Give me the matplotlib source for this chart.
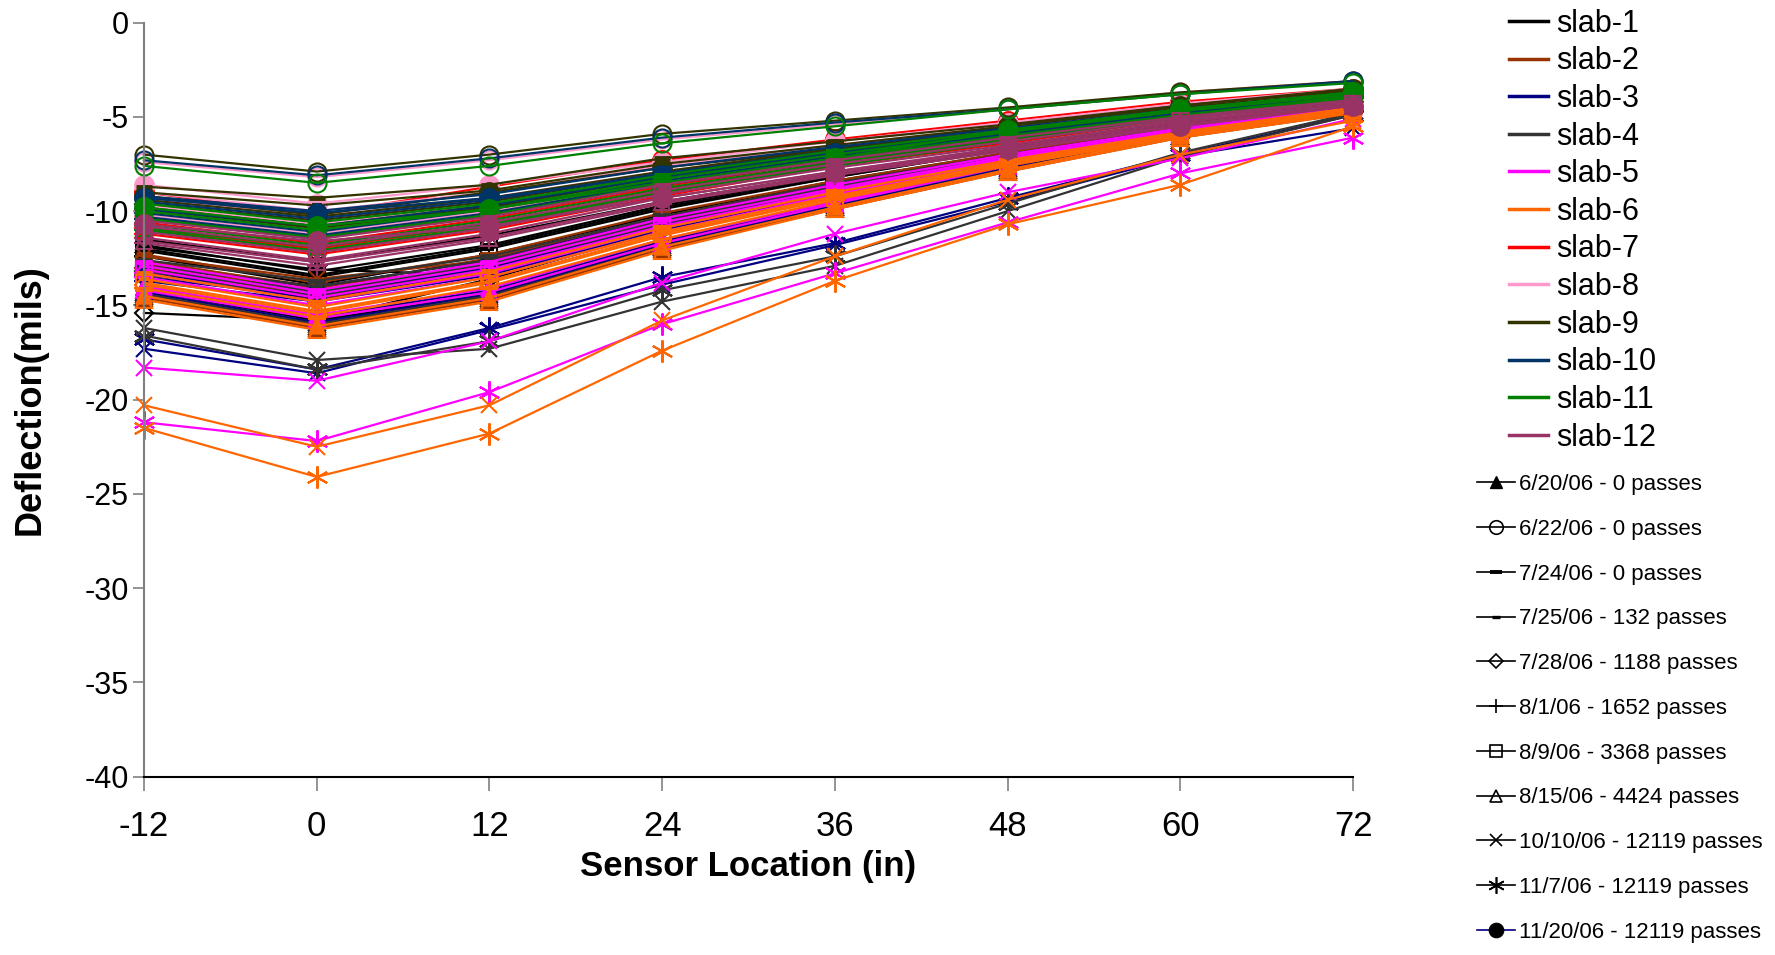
import matplotlib
matplotlib.use('Agg')
import matplotlib.pyplot as plt
from matplotlib.lines import Line2D
from matplotlib.font_manager import FontProperties

plt.rcParams['axes.unicode_minus'] = False

# sensor positions (in)
sensor_x = [-12, 0, 12, 24, 36, 48, 60, 72]

slab_names = ['slab-%d' % i for i in range(1, 13)]
slab_colors = ['#000000', '#993300', '#000080', '#333333', '#FF00FF', '#FF6600',
               '#FF0000', '#FF99CC', '#333300', '#003366', '#008000', '#993366']

date_labels = ['6/20/06 - 0 passes', '6/22/06 - 0 passes', '7/24/06 - 0 passes',
               '7/25/06 - 132 passes', '7/28/06 - 1188 passes', '8/1/06 - 1652 passes',
               '8/9/06 - 3368 passes', '8/15/06 - 4424 passes', '10/10/06 - 12119 passes',
               '11/7/06 - 12119 passes', '11/20/06 - 12119 passes']

# deflection (mils), one row per test date (None = not tested)
slab1 = [
    [-14.2, -15.8, -14.4, -11.7, -9.6, -7.6, -5.9, -4.6],
    None,
    [-11.8, -13.2, -11.8, -9.7, -8.1, -6.6, -5.3, -4.2],
    [-12.1, -13.5, -12.0, -9.9, -8.2, -6.7, -5.4, -4.3],
    [-15.4, -15.8, -13.6, -11.0, -9.1, -7.4, -5.8, -4.6],
    [-12.4, -13.9, -12.3, -10.2, -8.4, -6.9, -5.5, -4.3],
    [-12.0, -13.4, -11.9, -9.8, -8.2, -6.7, -5.4, -4.3],
    [-14.5, -16.1, -14.6, -11.9, -9.8, -7.8, -6.0, -4.7],
    [-11.5, -12.7, -11.3, -9.5, -8.0, -6.6, -5.3, -4.2],
    [-11.9, -13.1, -13.4, -10.8, -8.7, -7.0, -5.5, -4.4],
    None,
]
slab2 = [
    [-14.4, -16.0, -14.5, -11.9, -9.8, -7.8, -6.0, -4.7],
    None,
    [-12.3, -13.8, -12.3, -10.1, -8.4, -6.9, -5.5, -4.3],
    [-12.6, -14.1, -12.5, -10.3, -8.5, -7.0, -5.6, -4.4],
    [-13.0, -14.5, -12.9, -10.6, -8.8, -7.2, -5.7, -4.5],
    [-13.2, -14.7, -13.1, -10.8, -8.9, -7.3, -5.8, -4.5],
    [-12.8, -14.3, -12.7, -10.5, -8.7, -7.1, -5.7, -4.4],
    [-14.6, -16.2, -14.7, -12.0, -9.9, -7.9, -6.1, -4.8],
    [-12.4, -13.6, -12.6, -10.5, -8.8, -7.2, -5.7, -4.5],
    [-12.7, -14.0, -12.9, -10.8, -9.0, -7.3, -5.8, -4.5],
    None,
]
slab3 = [
    [-14.0, -15.6, -14.2, -11.6, -9.5, -7.6, -5.9, -4.6],
    None,
    [-12.9, -14.0, -12.6, -10.4, -8.6, -7.0, -5.6, -4.4],
    [-13.1, -14.3, -12.8, -10.6, -8.7, -7.1, -5.7, -4.5],
    [-13.5, -14.6, -13.2, -10.9, -9.0, -7.3, -5.8, -4.6],
    [-13.7, -14.8, -13.4, -11.0, -9.1, -7.4, -5.9, -4.6],
    [-13.3, -14.5, -13.0, -10.7, -8.9, -7.2, -5.8, -4.5],
    [-14.3, -15.9, -14.4, -11.8, -9.7, -7.7, -6.0, -4.7],
    [-17.3, -18.6, -16.3, -13.9, -11.8, -9.5, -7.1, -5.6],
    [-16.8, -18.4, -16.2, -13.5, -11.7, -9.3, -7.0, -4.9],
    None,
]
slab4 = [
    [-14.1, -15.7, -14.3, -11.7, -9.6, -7.6, -5.9, -4.6],
    None,
    [-12.6, -13.7, -12.4, -10.3, -8.5, -7.0, -5.6, -4.4],
    [-12.9, -14.0, -12.6, -10.5, -8.7, -7.1, -5.7, -4.5],
    [-13.2, -14.3, -12.9, -10.7, -8.8, -7.2, -5.7, -4.5],
    [-13.4, -14.5, -13.1, -10.9, -9.0, -7.3, -5.8, -4.6],
    [-13.1, -14.2, -12.8, -10.6, -8.8, -7.2, -5.7, -4.5],
    [-14.4, -16.0, -14.5, -11.9, -9.8, -7.8, -6.0, -4.7],
    [-16.2, -17.9, -17.3, -14.8, -12.9, -10.0, -7.1, -4.9],
    [-16.6, -18.4, -16.9, -14.2, -12.4, -9.6, -6.9, -4.8],
    None,
]
slab5 = [
    [-14.0, -15.5, -14.1, -11.5, -9.5, -7.5, -5.8, -4.5],
    None,
    [-12.7, -14.2, -12.7, -10.4, -8.6, -7.0, -5.6, -4.4],
    [-12.9, -14.4, -12.9, -10.6, -8.8, -7.1, -5.7, -4.5],
    [-13.3, -14.8, -13.3, -10.9, -9.0, -7.3, -5.8, -4.6],
    [-13.5, -15.0, -13.5, -11.1, -9.1, -7.4, -5.9, -4.6],
    [-13.1, -14.6, -13.1, -10.8, -8.9, -7.2, -5.8, -4.5],
    [-14.2, -15.7, -14.3, -11.7, -9.6, -7.6, -5.9, -4.6],
    [-18.3, -19.0, -16.9, -13.8, -11.2, -9.0, -7.2, -5.1],
    [-21.2, -22.2, -19.6, -16.0, -13.3, -10.6, -8.0, -6.1],
    None,
]
slab6 = [
    [-14.5, -16.1, -14.6, -11.9, -9.8, -7.8, -6.0, -4.7],
    None,
    [-13.3, -14.8, -13.2, -10.9, -9.0, -7.3, -5.8, -4.5],
    [-13.6, -15.1, -13.5, -11.1, -9.2, -7.4, -5.9, -4.6],
    [-13.9, -15.4, -13.8, -11.3, -9.3, -7.5, -5.9, -4.6],
    [-14.1, -15.6, -14.0, -11.5, -9.4, -7.6, -6.0, -4.7],
    [-13.8, -15.3, -13.7, -11.2, -9.3, -7.5, -5.9, -4.6],
    [-14.7, -16.3, -14.8, -12.1, -9.9, -7.9, -6.1, -4.8],
    [-20.3, -22.5, -20.3, -15.8, -12.4, -9.4, -7.0, -5.2],
    [-21.5, -24.1, -21.8, -17.4, -13.7, -10.7, -8.6, -5.5],
    None,
]
slab7 = [
    None,
    None,
    [-10.0, -11.0, -9.8, -8.2, -6.9, -5.8, -4.7, -3.8],
    [-10.4, -11.4, -10.2, -8.5, -7.1, -6.0, -4.9, -3.9],
    [-10.9, -12.0, -10.7, -8.9, -7.4, -6.2, -5.0, -4.0],
    [-11.2, -12.3, -11.0, -9.2, -7.6, -6.4, -5.1, -4.1],
    [-10.6, -11.7, -10.4, -8.7, -7.3, -6.1, -5.0, -4.0],
    [-11.0, -12.1, -10.9, -9.0, -7.5, -6.3, -5.1, -4.1],
    None,
    None,
    [-9.0, -10.2, -8.7, -7.3, -6.2, -5.2, -4.2, -3.5],
]
slab8 = [
    None,
    [-7.4, -8.2, -7.3, -6.2, -5.4, -4.6, -3.7, -3.1],
    [-9.0, -10.0, -9.0, -7.6, -6.5, -5.5, -4.5, -3.7],
    [-9.3, -10.3, -9.3, -7.9, -6.7, -5.6, -4.6, -3.7],
    [-10.0, -11.0, -9.9, -8.3, -7.0, -5.9, -4.8, -3.9],
    [-10.3, -11.3, -10.1, -8.5, -7.1, -6.0, -4.9, -3.9],
    [-9.7, -10.7, -9.6, -8.1, -6.8, -5.7, -4.7, -3.8],
    [-10.2, -11.2, -10.0, -8.4, -7.0, -5.9, -4.8, -3.9],
    None,
    None,
    [-8.6, -9.6, -8.6, -7.4, -6.3, -5.3, -4.3, -3.5],
]
slab9 = [
    None,
    [-7.0, -7.9, -7.0, -5.9, -5.2, -4.5, -3.7, -3.1],
    [-8.7, -9.3, -8.6, -7.2, -6.3, -5.4, -4.4, -3.6],
    [-9.0, -9.7, -8.9, -7.5, -6.5, -5.5, -4.5, -3.7],
    [-9.6, -10.5, -9.5, -8.0, -6.8, -5.8, -4.7, -3.8],
    [-9.9, -10.9, -9.8, -8.2, -7.0, -5.9, -4.8, -3.8],
    [-9.4, -10.3, -9.3, -7.9, -6.7, -5.7, -4.6, -3.7],
    [-9.8, -10.8, -9.7, -8.2, -6.9, -5.9, -4.8, -3.8],
    None,
    None,
    [-9.2, -10.2, -9.0, -7.7, -6.7, -5.5, -4.4, -3.5],
]
slab10 = [
    None,
    [-7.3, -8.1, -7.2, -6.1, -5.3, -4.6, -3.8, -3.1],
    [-9.2, -10.0, -9.1, -7.7, -6.6, -5.6, -4.6, -3.7],
    [-9.5, -10.4, -9.4, -8.0, -6.8, -5.8, -4.7, -3.8],
    [-10.1, -11.1, -9.9, -8.4, -7.1, -6.0, -4.9, -3.9],
    [-10.4, -11.4, -10.2, -8.6, -7.3, -6.2, -5.0, -4.0],
    [-9.9, -10.8, -9.7, -8.2, -7.0, -5.9, -4.8, -3.9],
    [-10.3, -11.3, -10.1, -8.5, -7.2, -6.1, -4.9, -4.0],
    None,
    None,
    [-9.3, -10.1, -9.3, -8.1, -6.9, -5.9, -4.8, -3.9],
]
slab11 = [
    None,
    [-7.6, -8.5, -7.6, -6.4, -5.5, -4.6, -3.8, -3.2],
    [-9.6, -10.6, -9.6, -8.1, -6.8, -5.7, -4.6, -3.7],
    [-10.0, -11.0, -9.9, -8.3, -7.0, -5.8, -4.7, -3.8],
    [-10.7, -11.8, -10.5, -8.8, -7.4, -6.2, -5.0, -4.0],
    [-11.0, -12.1, -10.8, -9.0, -7.6, -6.3, -5.1, -4.1],
    [-10.4, -11.4, -10.2, -8.6, -7.2, -6.0, -4.9, -3.9],
    [-10.9, -11.9, -10.7, -8.9, -7.5, -6.3, -5.0, -4.0],
    None,
    None,
    [-9.8, -10.8, -9.9, -8.5, -7.2, -5.7, -4.6, -3.7],
]
slab12 = [
    None,
    None,
    [-10.5, -11.5, -10.3, -8.6, -7.3, -6.1, -5.0, -4.1],
    [-10.8, -11.9, -10.6, -8.9, -7.5, -6.3, -5.1, -4.2],
    [-11.4, -12.6, -11.2, -9.3, -7.9, -6.6, -5.3, -4.3],
    [-11.7, -12.9, -11.5, -9.6, -8.1, -6.8, -5.5, -4.4],
    [-11.1, -12.2, -10.9, -9.1, -7.7, -6.5, -5.2, -4.3],
    [-11.6, -12.7, -11.4, -9.5, -8.0, -6.7, -5.4, -4.4],
    None,
    None,
    [-10.7, -11.6, -10.8, -9.3, -7.9, -6.7, -5.5, -4.4],
]
slabs = [slab1, slab2, slab3, slab4, slab5, slab6,
         slab7, slab8, slab9, slab10, slab11, slab12]

# marker per test date: (marker, size, filled, edge width)
date_markers = [
    ('^', 11, True, 1.2),
    ('o', 13, False, 1.5),
    ('_', 12, True, 3.5),
    ('_', 7, True, 3.0),
    ('D', 9, False, 1.5),
    ('+', 14, True, 1.5),
    ('s', 11, False, 1.5),
    ('^', 12, False, 1.5),
    ('x', 12, True, 1.5),
    ((6, 2, 0), 16, True, 1.5),
    ('o', 14, True, 1.0),
]

regular = ['Liberation Sans', 'DejaVu Sans']

fig = plt.figure(figsize=(17.75, 9.55), dpi=100)
ax = fig.add_axes([0.0811, 0.1868, 0.6812, 0.7895])

for s, rows in enumerate(slabs):
    for d, vals in enumerate(rows):
        if vals is None:
            continue
        m, ms, filled, mew = date_markers[d]
        ax.plot(sensor_x, vals, color=slab_colors[s], lw=1.6,
                marker=m, markersize=ms, markeredgewidth=mew,
                markerfacecolor=slab_colors[s] if filled else 'none',
                markeredgecolor=slab_colors[s], clip_on=False)

ax.set_xlim(-12, 72)
ax.set_ylim(-40, 0)
ax.set_xticks(sensor_x)
ax.set_yticks(range(-40, 1, 5))
for sp in ['top', 'right']:
    ax.spines[sp].set_visible(False)
ax.spines['left'].set_color('#808080')
ax.spines['left'].set_linewidth(1.5)
ax.spines['bottom'].set_color('#000000')
ax.spines['bottom'].set_linewidth(1.5)
ax.tick_params(axis='y', direction='out', length=8, width=1.2, color='#808080', pad=3)
ax.tick_params(axis='x', direction='out', length=10, width=1.2, color='#808080', pad=14)
for t in ax.get_yticklabels():
    t.set_fontproperties(FontProperties(family=regular, size=22))
for t in ax.get_xticklabels():
    t.set_fontproperties(FontProperties(family=regular, size=25))

ax.set_xlabel('Sensor Location (in)', fontproperties=FontProperties(family=regular, size=25, weight='bold'))
ax.set_ylabel('Deflection(mils)', fontproperties=FontProperties(family=regular, size=26, weight='bold'))
ax.xaxis.set_label_coords(0.5, -0.097)
ax.yaxis.set_label_coords(-0.080, 0.5)

# legends
slab_handles = [Line2D([], [], color=c, lw=2.5) for c in slab_colors]
fig.legend(slab_handles, slab_names, loc='upper left', bbox_to_anchor=(0.850, 0.991),
           frameon=False, prop=FontProperties(family=regular, size=22),
           handlelength=1.3, handletextpad=0.25, labelspacing=0.25,
           borderpad=0, borderaxespad=0)

date_handles = []
for d, (m, ms, filled, mew) in enumerate(date_markers):
    lc = '#000080' if d == 10 else 'k'
    date_handles.append(Line2D([], [], color=lc, lw=1.2, marker=m,
                               markersize=ms * 0.75, markeredgewidth=mew * 0.8,
                               markerfacecolor='k' if filled else 'none',
                               markeredgecolor='k'))
fig.legend(date_handles, date_labels, loc='upper left', bbox_to_anchor=(0.832, 0.5037),
           frameon=False, prop=FontProperties(family=regular, size=16),
           handlelength=1.7, handletextpad=0.2, labelspacing=1.07,
           borderpad=0, borderaxespad=0)

fig.savefig('out.png', dpi=100)
